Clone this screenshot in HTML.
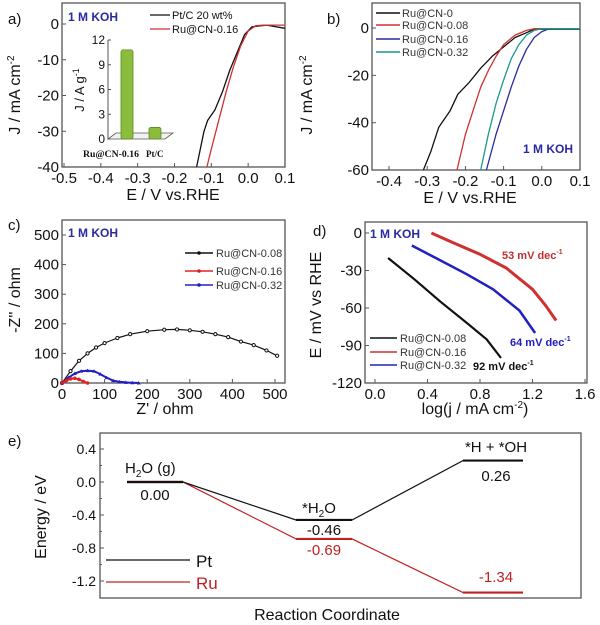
<!DOCTYPE html>
<html><head><meta charset="utf-8"><style>
html,body{margin:0;padding:0;background:#fff;}
svg{display:block;font-family:"Liberation Sans",Arial,sans-serif;}
</style></head><body>
<svg id="fig" width="600" height="625" viewBox="0 0 600 625" xmlns="http://www.w3.org/2000/svg"></svg>
<script>
// ---------- DATA ----------
// panel a
const aPtE=[-0.14,-0.13,-0.12,-0.11,-0.09,-0.07,-0.05,-0.03,-0.01,0.01,0.05,0.1];
const aPtJ=[-40,-35,-30,-27,-24,-19,-13,-8,-3,-0.8,-0.3,-1.2];
const aRuE=[-0.112,-0.10,-0.08,-0.06,-0.04,-0.02,0.0,0.02,0.04,0.1];
const aRuJ=[-40,-35,-27,-19,-12,-6,-2,-0.5,-0.3,-0.3];
const aXTicks=[-0.5,-0.4,-0.3,-0.2,-0.1,0.0,0.1];
const aYTicks=[0,-10,-20,-30,-40];
const insetCats=["Ru@CN-0.16","Pt/C"];
const insetVals=[10.8,1.4];
const insetTicks=[0,3,6,9,12];
// panel b
const bNames=["Ru@CN-0","Ru@CN-0.08","Ru@CN-0.16","Ru@CN-0.32"];
const b0E=[-0.31,-0.29,-0.27,-0.24,-0.22,-0.19,-0.16,-0.13,-0.10,-0.07,-0.04,-0.02,0.1];
const b0J=[-60,-52,-42,-35,-28,-23,-17,-12,-8,-4,-2,-0.5,-0.5];
const b08E=[-0.222,-0.20,-0.18,-0.16,-0.14,-0.12,-0.10,-0.07,-0.04,-0.02,0.1];
const b08J=[-60,-45,-35,-25,-18,-12,-7,-3,-1,-0.3,-0.3];
const b16E=[-0.145,-0.12,-0.10,-0.08,-0.06,-0.04,-0.02,0.0,0.02,0.1];
const b16J=[-60,-45,-35,-25,-16,-9,-4,-1.5,-0.3,-0.3];
const b32E=[-0.16,-0.14,-0.12,-0.10,-0.08,-0.06,-0.04,-0.02,0.0,0.1];
const b32J=[-60,-45,-32,-22,-13,-7,-3,-1,-0.3,-0.3];
const bXTicks=[-0.4,-0.3,-0.2,-0.1,0.0,0.1];
const bYTicks=[0,-20,-40,-60];
// panel c
const c08Z=[0,20,40,60,80,100,130,160,200,240,270,300,330,360,390,420,450,480,505];
const c08Y=[0,40,75,100,120,135,152,165,175,180,181,178,173,165,155,140,128,110,92];
const c16Z=[0,10,20,30,40,50,60];
const c16Y=[0,8,14,16,12,5,0];
const c32Z=[0,15,30,45,60,75,90,105,120,135,150,165,180];
const c32Y=[0,18,32,40,42,40,30,18,8,4,2,1,0];
const cXTicks=[0,100,200,300,400,500];
const cYTicks=[0,100,200,300,400,500];
// panel d
const d08L=[0.1,0.3,0.5,0.7,0.85,0.96];
const d08E=[-20,-37,-55,-72,-85,-100];
const d16L=[0.43,0.6,0.8,1.0,1.2,1.3,1.38];
const d16E=[0,-8,-17,-28,-45,-58,-70];
const d32L=[0.28,0.5,0.7,0.9,1.1,1.22];
const d32E=[-10,-22,-33,-45,-62,-80];
const dXTicks=[0.0,0.4,0.8,1.2,1.6];
const dYTicks=[0,-30,-60,-90,-120];
// panel e
const eStates=["H2O (g)","*H2O","*H + *OH"];
const ePt=[0.00,-0.46,0.26];
const eRu=[0.00,-0.69,-1.34];
const eYTicks=[0.4,0.0,-0.4,-0.8,-1.2];

// ---------- helpers ----------
const NS="http://www.w3.org/2000/svg";
const svg=document.getElementById('fig');
function mk(tag,attrs,parent,text){const e=document.createElementNS(NS,tag);for(const k in attrs)e.setAttribute(k,attrs[k]);if(text!==undefined)e.textContent=text;(parent||svg).appendChild(e);return e;}
function grp(name){const g=mk('g',{});


return g;}
function poly(g,xs,ys,X,Y,color,name,w){const p=mk('polyline',{points:xs.map((v,i)=>X(v).toFixed(1)+','+Y(ys[i]).toFixed(1)).join(' '),fill:'none',stroke:color,'stroke-width':w||1.3,'stroke-linejoin':'round'},g);


return p;}
function txt(g,x,y,s,opts,name){const t=mk('text',Object.assign({x:x,y:y,'font-size':14,fill:'#111'},opts||{}),g,s);


return t;}
function frame(g,x0,y0,x1,y1){const r=mk('rect',{x:x0,y:y0,width:x1-x0,height:y1-y0,fill:'none',stroke:'#555','stroke-width':1.3},g);

}
function xticks(g,ticks,X,yb,fmt){ticks.forEach(t=>{mk('line',{x1:X(t),x2:X(t),y1:yb,y2:yb-4,stroke:'#555'},g);txt(g,X(t),yb+16,fmt(t),{'text-anchor':'middle','font-size':15},'x-tick-label');});}
function yticks(g,ticks,Y,xl,fmt){ticks.forEach(t=>{mk('line',{x1:xl,x2:xl+4,y1:Y(t),y2:Y(t),stroke:'#555'},g);txt(g,xl-3,Y(t)+5,fmt(t),{'text-anchor':'end','font-size':15},'y-tick-label');});}
function ytitle(g,x,y,s,name){const t=txt(g,x,y,s,{'text-anchor':'middle','font-size':16,transform:`rotate(-90 ${x} ${y})`},name);return t;}

// ---------- panel a ----------
(function(){const g=grp('panel-a');
const X=v=>64+(v+0.5)*368.3, Y=j=>24-j*3.575;
frame(g,62,3,285,167);
xticks(g,aXTicks,X,167,t=>t.toFixed(1));
yticks(g,aYTicks,Y,62,t=>String(t));
txt(g,8,24,'a)',{'font-size':15},'panel-label');
txt(g,68,21,'1 M KOH',{'font-size':12,'font-weight':'bold',fill:'#2a2aa0'},'condition-label');
txt(g,173,200,'E / V vs.RHE',{'text-anchor':'middle','font-size':16},'x-axis-title');
const yt=ytitle(g,20,95,'J / mA cm',"y-axis-title");mk('tspan',{dy:-6,'font-size':10},yt,'-2');
poly(g,aPtE,aPtJ,X,Y,'#111','series-pt-c');
poly(g,aRuE,aRuJ,X,Y,'#d03030','series-ru-cn-0.16');
mk('line',{x1:150,x2:170,y1:15,y2:15,stroke:'#111','stroke-width':1.3},g);
txt(g,172,19,'Pt/C 20 wt%',{'font-size':11},'legend-entry-pt');
mk('line',{x1:150,x2:170,y1:29,y2:29,stroke:'#d03030','stroke-width':1.3},g);
txt(g,172,33,'Ru@CN-0.16',{'font-size':11},'legend-entry-ru');
// inset
const IY=v=>139-v*8.25;
mk('line',{x1:108,x2:108,y1:40,y2:139,stroke:'#555'},g);
mk('polygon',{points:'108,139 165,139 173,133 116,133',fill:'#f2f2f2',stroke:'#555','stroke-width':0.8},g);
insetTicks.forEach(t=>{mk('line',{x1:108,x2:111,y1:IY(t),y2:IY(t),stroke:'#555'},g);txt(g,105,IY(t)+4,String(t),{'text-anchor':'end','font-size':12},'inset-tick');});
const bx=[121,149];
insetVals.forEach((v,i)=>{const r=mk('rect',{x:bx[i],y:IY(v),width:12,height:139-IY(v),fill:'#8cbc3c',stroke:'#5a8a20','stroke-width':0.8,rx:2},g);

});
txt(g,83,157,insetCats[0],{'font-size':9,'font-weight':'bold','font-family':'Liberation Serif,serif',textLength:56,lengthAdjust:'spacingAndGlyphs'},'inset-category');
txt(g,146,157,insetCats[1],{'font-size':9,'font-weight':'bold','font-family':'Liberation Serif,serif'},'inset-category');
const it=ytitle(g,84,90,'J / A g',"inset-y-title");it.setAttribute('font-size',13);mk('tspan',{dy:-5,'font-size':9},it,'-1');
})();

// ---------- panel b ----------
(function(){const g=grp('panel-b');
const X=v=>389+(v+0.4)*382, Y=j=>28-j*2.367;
frame(g,372,3,580,170);
xticks(g,bXTicks,X,170,t=>t.toFixed(1));
yticks(g,bYTicks,Y,372,t=>String(t));
txt(g,327,24,'b)',{'font-size':15},'panel-label');
txt(g,470,203,'E / V vs.RHE',{'text-anchor':'middle','font-size':16},'x-axis-title');
const yt=ytitle(g,312,95,'J / mA cm',"y-axis-title");mk('tspan',{dy:-6,'font-size':10},yt,'-2');
const cols=['#111','#d03030','#2a2aa0','#1a9a8a'];
const Es=[b0E,b08E,b16E,b32E],Js=[b0J,b08J,b16J,b32J];
Es.forEach((e,i)=>poly(g,e,Js[i],X,Y,cols[i],'series-'+bNames[i].toLowerCase().replace('@','-')));
[13,25,39,52].forEach((y,i)=>{mk('line',{x1:376,x2:400,y1:y,y2:y,stroke:cols[i],'stroke-width':1.5},g);txt(g,402,y+4,bNames[i],{'font-size':11,fill:'#333'},'legend-entry');});
txt(g,523,153,'1 M KOH',{'font-size':12,'font-weight':'bold',fill:'#2a2aa0'},'condition-label');
})();

// ---------- panel c ----------
(function(){const g=grp('panel-c');
const X=z=>62+z*0.426, Y=z=>383-z*0.296;
frame(g,62,220,285,383);
xticks(g,cXTicks,X,383,t=>String(t));
yticks(g,cYTicks,Y,62,t=>String(t));
txt(g,8,230,'c)',{'font-size':15},'panel-label');
txt(g,68,237,'1 M KOH',{'font-size':12,'font-weight':'bold',fill:'#2a2aa0'},'condition-label');
txt(g,165,414,"Z' / ohm",{'text-anchor':'middle','font-size':16},'x-axis-title');
ytitle(g,20,300,"-Z'' / ohm","y-axis-title");
poly(g,c08Z,c08Y,X,Y,'#111','series-ru-cn-0.08',1.2);
c08Z.forEach((z,i)=>mk('circle',{cx:X(z),cy:Y(c08Y[i]),r:1.6,fill:'#fff',stroke:'#111'},g));
poly(g,c32Z,c32Y,X,Y,'#2020c0','series-ru-cn-0.32',2);
c32Z.forEach((z,i)=>mk('path',{d:`M${X(z)-2},${Y(c32Y[i])+1.5}L${X(z)},${Y(c32Y[i])-2}L${X(z)+2},${Y(c32Y[i])+1.5}Z`,fill:'#2020c0'},g));
poly(g,c16Z,c16Y,X,Y,'#e02020','series-ru-cn-0.16',2);
c16Z.forEach((z,i)=>mk('circle',{cx:X(z),cy:Y(c16Y[i]),r:1.8,fill:'#e02020'},g));
const ln=[['Ru@CN-0.08','#111',253],['Ru@CN-0.16','#e02020',271],['Ru@CN-0.32','#2020c0',285]];
ln.forEach(l=>{mk('line',{x1:185,x2:213,y1:l[2],y2:l[2],stroke:l[1],'stroke-width':1.5},g);mk('circle',{cx:199,cy:l[2],r:1.8,fill:l[1]},g);txt(g,216,l[2]+4,l[0],{'font-size':11,fill:'#333'},'legend-entry');});
})();

// ---------- panel d ----------
(function(){const g=grp('panel-d');
const X=l=>375+l*131.25, Y=e=>233-e*1.25;
frame(g,365,222,587,383);
xticks(g,dXTicks,X,383,t=>t.toFixed(1));
yticks(g,dYTicks,Y,365,t=>String(t));
txt(g,313,236,'d)',{'font-size':15},'panel-label');
txt(g,370,238,'1 M KOH',{'font-size':12,'font-weight':'bold',fill:'#2a2aa0'},'condition-label');
const xt=txt(g,475,414,'log(j / mA cm',{'text-anchor':'middle','font-size':16},'x-axis-title');mk('tspan',{dy:-6,'font-size':10},xt,'-2');mk('tspan',{dy:6},xt,')');
ytitle(g,321,305,'E / mV vs RHE','y-axis-title');
poly(g,d08L,d08E,X,Y,'#111','series-ru-cn-0.08',2.2);
poly(g,d16L,d16E,X,Y,'#d03030','series-ru-cn-0.16',3);
poly(g,d32L,d32E,X,Y,'#2020c0','series-ru-cn-0.32',2.5);
const ln=[['Ru@CN-0.08','#111',338],['Ru@CN-0.16','#d03030',352],['Ru@CN-0.32','#2020c0',365]];
ln.forEach(l=>{mk('line',{x1:370,x2:397,y1:l[2],y2:l[2],stroke:l[1],'stroke-width':1.5},g);txt(g,400,l[2]+4,l[0],{'font-size':11,fill:'#333'},'legend-entry');});
function slope(x,y,s,c){const t=txt(g,x,y,s,{'font-size':11,'font-weight':'bold',fill:c},'tafel-slope-label');mk('tspan',{dy:-5,'font-size':7},t,'-1');}
slope(502,259,'53 mV dec','#c03030');
slope(510,346,'64 mV dec','#2020c0');
slope(473,370,'92 mV dec','#111');
})();

// ---------- panel e ----------
(function(){const g=grp('panel-e');
const Y=v=>482-v*82.5;
const lx0=[127,296,463], lx1=[183,352,523];
frame(g,100,433,581,598);
eYTicks.forEach(t=>{mk('line',{x1:100,x2:104,y1:Y(t),y2:Y(t),stroke:'#555'},g);txt(g,96,Y(t)+5,t.toFixed(1),{'text-anchor':'end','font-size':14},'y-tick-label');});
[0.2,-0.2,-0.6,-1.0].forEach(t=>mk('line',{x1:100,x2:102,y1:Y(t),y2:Y(t),stroke:'#555'},g));
txt(g,8,446,'e)',{'font-size':15},'panel-label');
ytitle(g,46,517,'Energy / eV','y-axis-title');
txt(g,327,620,'Reaction Coordinate',{'text-anchor':'middle','font-size':16},'x-axis-title');
function series(vals,c,name){const xs=[],ys=[];vals.forEach((v,i)=>{xs.push(lx0[i],lx1[i]);ys.push(v,v);});
const p=mk('polyline',{points:xs.map((x,i)=>x+','+Y(ys[i]).toFixed(1)).join(' '),fill:'none',stroke:c,'stroke-width':1.2},g);


vals.forEach((v,i)=>mk('line',{x1:lx0[i],x2:lx1[i],y1:Y(v),y2:Y(v),stroke:c,'stroke-width':2.2},g));}
series(eRu,'#c02020','series-ru');
series(ePt,'#111','series-pt');
const s1=txt(g,125,473,'H',{'font-size':15},'state-label');mk('tspan',{'font-size':10,dy:4},s1,'2');mk('tspan',{dy:-4},s1,'O  (g)');
const s2=txt(g,302,513,'*H',{'font-size':15},'state-label');mk('tspan',{'font-size':10,dy:4},s2,'2');mk('tspan',{dy:-4},s2,'O');
txt(g,496,452,eStates[2],{'font-size':15,'text-anchor':'middle'},'state-label');
txt(g,155,500,ePt[0].toFixed(2),{'font-size':15,'text-anchor':'middle'},'value-label');
txt(g,324,535,ePt[1].toFixed(2),{'font-size':15,'text-anchor':'middle'},'value-label');
txt(g,496,481,ePt[2].toFixed(2),{'font-size':15,'text-anchor':'middle'},'value-label');
txt(g,324,555,eRu[1].toFixed(2),{'font-size':15,'text-anchor':'middle',fill:'#c02020'},'value-label');
txt(g,496,582,eRu[2].toFixed(2),{'font-size':15,'text-anchor':'middle',fill:'#c02020'},'value-label');
mk('line',{x1:106,x2:190,y1:560,y2:560,stroke:'#111','stroke-width':1.2},g);
txt(g,196,567,'Pt',{'font-size':17},'legend-entry-pt');
mk('line',{x1:106,x2:190,y1:582,y2:582,stroke:'#c02020','stroke-width':1.2},g);
txt(g,196,589,'Ru',{'font-size':17,fill:'#c02020'},'legend-entry-ru');
})();
</script>
</body></html>
